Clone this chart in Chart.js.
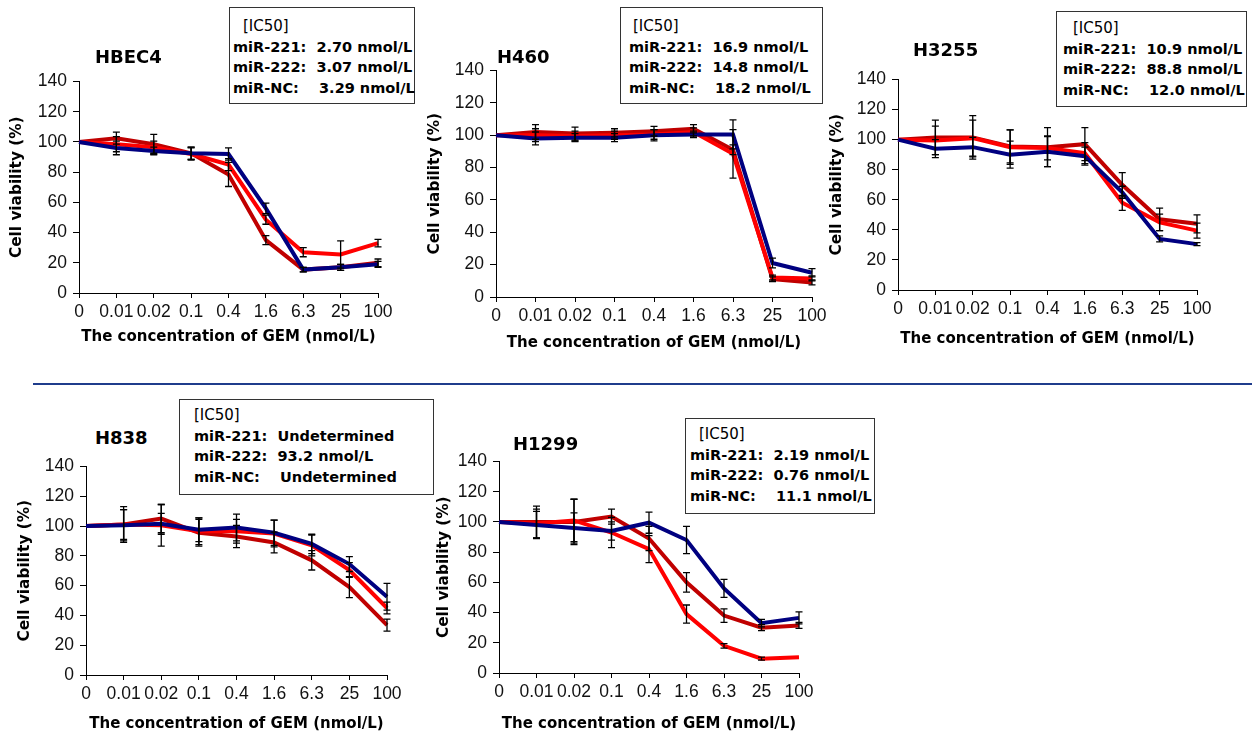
<!DOCTYPE html>
<html>
<head>
<meta charset="utf-8">
<script src="https://cdn.jsdelivr.net/npm/chart.js@4.4.1/dist/chart.umd.min.js"></script>
<style>
  body { margin: 0; background: #fff; width: 1252px; height: 738px; position: relative; overflow: hidden; }
  canvas { position: absolute; }
  .ttl { position: absolute; font: bold 18px "DejaVu Sans"; line-height: 20px; color: #000; white-space: nowrap; }
  .box { position: absolute; border: 1.5px solid #333; box-sizing: border-box; background: #fff;
         font: bold 14.5px "DejaVu Sans"; line-height: 20.5px; color: #000; white-space: pre; }
  .box .ic { font: 15px "DejaVu Sans"; display: inline-block; }
  .sep { position: absolute; left: 33px; top: 383px; width: 1219px; height: 0; border-top: 2px solid #1f3c8c; }
</style>
</head>
<body>
<div class="sep"></div>
<script>
// GEM concentrations (nmol/L)
var doses = ['0', '0.01', '0.02', '0.1', '0.4', '1.6', '6.3', '25', '100'];
var yTicks = [0, 20, 40, 60, 80, 100, 120, 140];

// cell viability (%) and error bars, per cell line
var hbec4_221 = [100, 102.5, 98.5, 92.5, 78.5, 35, 15.5, 17, 20];
var hbec4_222 = [100, 98.5, 96.5, 92, 85, 48.5, 27, 25.5, 33];
var hbec4_nc  = [100, 96, 94, 92.5, 92, 56, 15.5, 17, 19];
var hbec4_221_err = [0, 4, 6.5, 4, 8, 3, 1.5, 2, 2.5];
var hbec4_222_err = [0, 5, 4, 4, 4, 3, 3, 9, 2.5];
var hbec4_nc_err  = [0, 4.5, 2.5, 4, 4, 3.5, 1.5, 2, 2];

var h460_221 = [100, 102, 101, 101.5, 102.5, 104, 91, 11, 9];
var h460_222 = [100, 100, 99.5, 100, 100.5, 102, 88.5, 12, 11.5];
var h460_nc  = [100, 98, 98.5, 98.5, 100, 100.5, 100.5, 21, 15];
var h460_221_err = [0, 4.5, 4, 2.5, 3, 2.5, 3, 1.5, 1.5];
var h460_222_err = [0, 4, 3, 2.5, 3, 2.5, 15, 1.5, 1.5];
var h460_nc_err  = [0, 4, 2.5, 2.5, 3.5, 2, 9, 3, 2.5];

var h3255_221 = [100, 101.5, 101.5, 95.5, 95, 97, 70, 47, 44];
var h3255_222 = [100, 99.5, 101, 95, 94.5, 91, 58, 45, 39.5];
var h3255_nc  = [100, 94, 95, 90, 92, 89, 65, 34, 30.5];
var h3255_221_err = [0, 11.5, 14.5, 11, 13, 11, 8, 7.5, 6];
var h3255_222_err = [0, 9.5, 12, 11.5, 8, 7, 5, 5.5, 5];
var h3255_nc_err  = [0, 6, 6.5, 9, 10, 6, 4, 2, 1];

var h838_221 = [100, 101, 105, 95.5, 93, 89, 77, 59, 33.5];
var h838_222 = [100, 101, 100.5, 96.5, 96.5, 95, 87, 70.5, 45];
var h838_nc  = [100, 100.5, 101.5, 97.5, 99, 95.5, 88, 74.5, 52.5];
var h838_221_err = [0, 12, 9.5, 9, 7.5, 7, 6.5, 7, 4];
var h838_222_err = [0, 10, 14, 9, 8, 9, 7, 5, 4];
var h838_nc_err  = [0, 10.5, 7, 8, 9, 8.5, 6.5, 5, 9];

var h1299_221 = [100, 100, 100, 103.5, 89, 60, 38, 30, 31.5];
var h1299_222 = [100, 99, 101, 93, 82, 39, 18, 9.5, 10.5];
var h1299_nc  = [100, 98, 96, 94, 99.5, 88, 56, 33, 36.5];
var h1299_221_err = [0, 10.5, 15, 5, 8, 6.5, 4.5, 2, 2];
var h1299_222_err = [0, 9.5, 14, 10, 9, 6, 1.5, 1, 0];
var h1299_nc_err  = [0, 9, 10, 6, 7, 9, 6, 2.5, 4];

var C221 = '#c00000', C222 = '#ff0000', CNC = '#000080';

// box: left, top, width, height, text indent, top padding, [IC50] indent
var panels = [
  { name: 'HBEC4', d: [hbec4_221, hbec4_222, hbec4_nc], e: [hbec4_221_err, hbec4_222_err, hbec4_nc_err],
    ic: ['2.70 nmol/L', '3.07 nmol/L', '3.29 nmol/L'],
    area: [79, 77, 378, 293], yt: 62, xt: 44, title: [95, 47],
    box: [229, 7, 186, 97, 3, 8, 10] },
  { name: 'H460', d: [h460_221, h460_222, h460_nc], e: [h460_221_err, h460_222_err, h460_nc_err],
    ic: ['16.9 nmol/L', '14.8 nmol/L', '18.2 nmol/L'],
    area: [496, 66, 812, 297], yt: 61, xt: 46, title: [497, 47],
    box: [620, 7, 203, 97, 8, 8, 4] },
  { name: 'H3255', d: [h3255_221, h3255_222, h3255_nc], e: [h3255_221_err, h3255_222_err, h3255_nc_err],
    ic: ['10.9 nmol/L', '88.8 nmol/L', '12.0 nmol/L'],
    area: [898, 75, 1197, 290], yt: 61, xt: 49, title: [913, 40],
    box: [1056, 11, 191, 96, 6, 6, 10] },
  { name: 'H838', d: [h838_221, h838_222, h838_nc], e: [h838_221_err, h838_222_err, h838_nc_err],
    ic: ['Undetermined', '93.2 nmol/L', 'Undetermined'],
    area: [86, 462, 387, 675], yt: 61, xt: 49, title: [95, 428],
    box: [179, 399, 255, 96, 14, 5, 0] },
  { name: 'H1299', d: [h1299_221, h1299_222, h1299_nc], e: [h1299_221_err, h1299_222_err, h1299_nc_err],
    ic: ['2.19 nmol/L', '0.76 nmol/L', '11.1 nmol/L'],
    area: [499, 457, 799, 673], yt: 55, xt: 51, title: [513, 434],
    box: [685, 418, 190, 96, 4, 5, 9] }
];

// error bars drawn through the chart's own scales
var errorBars = {
  id: 'errorBars',
  afterDatasetsDraw: function (chart) {
    var ctx = chart.ctx, xs = chart.scales.x, ys = chart.scales.y;
    ctx.save();
    ctx.strokeStyle = '#000';
    ctx.lineWidth = 1.3;
    chart.data.datasets.forEach(function (ds) {
      ds.err.forEach(function (er, i) {
        if (!er) return;
        var x = xs.getPixelForValue(i);
        var y1 = ys.getPixelForValue(ds.data[i] + er);
        var y2 = ys.getPixelForValue(ds.data[i] - er);
        ctx.beginPath();
        ctx.moveTo(x, y1); ctx.lineTo(x, y2);
        ctx.moveTo(x - 3.5, y1); ctx.lineTo(x + 3.5, y1);
        ctx.moveTo(x - 3.5, y2); ctx.lineTo(x + 3.5, y2);
        ctx.stroke();
      });
    });
    ctx.restore();
  }
};

var YW = 80, XH = 60, PT = 12, PR = 25;

panels.forEach(function (p) {
  var a = p.area;
  var cv = document.createElement('canvas');
  var w = a[2] - a[0] + YW + PR, h = a[3] - a[1] + PT + XH;
  cv.width = w; cv.height = h;
  cv.style.left = (a[0] - YW) + 'px';
  cv.style.top = (a[1] - PT) + 'px';
  document.body.appendChild(cv);

  var t = document.createElement('div');
  t.className = 'ttl';
  t.style.left = p.title[0] + 'px'; t.style.top = p.title[1] + 'px';
  t.textContent = p.name;
  document.body.appendChild(t);

  var b = document.createElement('div');
  b.className = 'box';
  b.style.left = p.box[0] + 'px'; b.style.top = p.box[1] + 'px';
  b.style.width = p.box[2] + 'px'; b.style.height = p.box[3] + 'px';
  b.style.paddingLeft = p.box[4] + 'px'; b.style.paddingTop = p.box[5] + 'px';
  b.innerHTML = '<span class="ic" style="margin-left:' + p.box[6] + 'px">[IC50]</span>\nmiR-221:  ' + p.ic[0] +
    '\nmiR-222:  ' + p.ic[1] + '\nmiR-NC:    ' + p.ic[2];
  document.body.appendChild(b);

  var lineDs = function (label, data, err, color) {
    return { label: label, data: data, err: err, borderColor: color, backgroundColor: color,
             borderWidth: 4, pointRadius: 0, tension: 0, fill: false };
  };

  new Chart(cv.getContext('2d'), {
    type: 'line',
    data: {
      labels: doses,
      datasets: [
        lineDs('miR-NC', p.d[2], p.e[2], CNC),
        lineDs('miR-222', p.d[1], p.e[1], C222),
        lineDs('miR-221', p.d[0], p.e[0], C221)
      ]
    },
    plugins: [errorBars],
    options: {
      responsive: false,
      animation: false,
      devicePixelRatio: 1,
      layout: { padding: { left: 0, top: PT, right: PR, bottom: 0 } },
      plugins: { legend: { display: false }, tooltip: { enabled: false } },
      scales: {
        x: {
          type: 'category',
          offset: false,
          grid: { drawOnChartArea: false, drawTicks: true, tickLength: 5, color: '#000' },
          border: { color: '#000', width: 1 },
          ticks: { font: { family: 'Liberation Sans', size: 17.5 }, color: '#111', padding: 4, maxRotation: 0, autoSkip: false },
          title: { display: true, text: 'The concentration of GEM (nmol/L)', color: '#000',
                   font: { family: 'DejaVu Sans', size: 15, weight: 'bold' },
                   padding: { top: 0, bottom: XH - p.xt - 9 } },
          afterFit: function (s) { s.height = XH; }
        },
        y: {
          min: 0, max: 140,
          afterBuildTicks: function (s) { s.ticks = yTicks.map(function (v) { return { value: v }; }); },
          grid: { drawOnChartArea: false, drawTicks: true, tickLength: 6, color: '#000' },
          border: { color: '#000', width: 1 },
          ticks: { font: { family: 'Liberation Sans', size: 17.5 }, color: '#111', padding: 6 },
          title: { display: true, text: 'Cell viability (%)', color: '#000',
                   font: { family: 'DejaVu Sans', size: 15.3, weight: 'bold' },
                   padding: { top: YW - p.yt - 9, bottom: 0 } },
          afterFit: function (s) { s.width = YW; }
        }
      }
    }
  });
});
</script>
</body>
</html>
